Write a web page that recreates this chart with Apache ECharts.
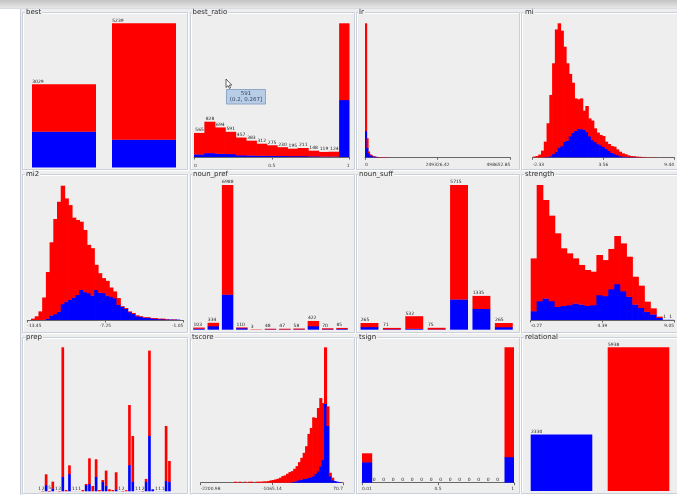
<!DOCTYPE html>
<html>
<head>
<meta charset="utf-8">
<script src="https://cdn.jsdelivr.net/npm/echarts@6/dist/echarts.min.js"></script>
<style>
  html, body { margin: 0; padding: 0; background: #eeeeee; }
  #chart { width: 677px; height: 495px; }
</style>
</head>
<body>
<div id="chart"></div>
<script>
// ---------------- attribute counts (total per bar, and the blue-class share) ----------------
const bestTotal = [3029, 5239];
const bestBlue = [1310, 1020];

const bestRatioTotal = [565, 828, 694, 591, 457, 383, 312, 275, 230, 195, 211, 148, 119, 124, 3136];
const bestRatioBlue = [65, 95, 80, 72, 45, 40, 35, 32, 28, 25, 25, 20, 15, 15, 1340];
const bestRatioTicks = ['0', '0.5', '1'];

const lrTotal = [6600, 940, 290, 150, 100, 60, 40, 25, 15, 10, 8, 5, 4, 3, 2, 2, 1, 1, 1, 1,
  0, 0, 0, 0, 0, 1, 0, 0, 0, 0, 0, 1, 0, 0, 0, 0, 0, 0, 0, 0,
  1, 0, 0, 0, 0, 0, 0, 0, 0, 0, 0, 0, 1, 0, 0, 0, 0, 0, 0, 0,
  0, 0, 0, 0, 0, 0, 0, 0, 0, 0, 0, 0, 0, 0, 0, 0, 0, 0, 0, 0,
  0, 0, 0, 0, 0, 0, 0, 0, 0, 0, 0, 0, 0, 0, 0, 0, 0, 0, 0, 1];
const lrBlue = [1300, 460, 210, 110, 80, 50, 35, 22, 14, 9, 7, 4, 3, 2, 2, 1, 1, 0, 0, 0,
  0, 0, 0, 0, 0, 0, 0, 0, 0, 0, 0, 0, 0, 0, 0, 0, 0, 0, 0, 0,
  0, 0, 0, 0, 0, 0, 0, 0, 0, 0, 0, 0, 0, 0, 0, 0, 0, 0, 0, 0,
  0, 0, 0, 0, 0, 0, 0, 0, 0, 0, 0, 0, 0, 0, 0, 0, 0, 0, 0, 0,
  0, 0, 0, 0, 0, 0, 0, 0, 0, 0, 0, 0, 0, 0, 0, 0, 0, 0, 0, 0];
const lrTicks = ['0', '249326.42', '498652.85'];

const miTotal = [4, 7, 15, 37, 87, 189, 346, 522, 710, 744, 703, 614, 522, 463, 414, 327, 322, 327, 259, 285,
  216, 204, 161, 137, 124, 118, 87, 74, 63, 59, 44, 31, 22, 17, 11, 7, 6, 4, 3, 2,
  2, 1, 1, 1, 1, 0, 0, 1, 0, 0, 1];
const miBlue = [0, 0, 0, 0, 2, 4, 7, 19, 33, 56, 63, 87, 93, 118, 137, 148, 161, 157, 155, 141,
  118, 96, 87, 74, 68, 59, 48, 37, 26, 19, 13, 7, 6, 4, 2, 2, 2, 1, 1, 1,
  0, 0, 0, 0, 0, 0, 0, 0, 0, 0, 0];
const miTicks = ['-2.33', '3.56', '9.44'];

const mi2Total = [0, 7, 19, 44, 115, 245, 397, 516, 604, 686, 621, 587, 523, 511, 502, 460, 384, 367, 282, 239,
  214, 200, 166, 146, 112, 70, 61, 44, 36, 24, 19, 14, 14, 10, 10, 7, 7, 5, 3, 3, 2, 0];
const mi2Blue = [0, 0, 0, 0, 2, 7, 24, 31, 44, 82, 95, 104, 116, 129, 155, 143, 138, 126, 155, 141,
  138, 126, 119, 112, 78, 68, 58, 41, 32, 20, 17, 12, 12, 9, 7, 5, 5, 3, 3, 2, 2, 0];
const mi2Ticks = ['-13.45', '-7.25', '-1.05'];

const nounPrefTotal = [103, 334, 6988, 110, 3, 48, 47, 58, 422, 70, 85];
const nounPrefBlue = [60, 178, 1706, 80, 1, 25, 20, 25, 178, 30, 40];

const nounSuffTotal = [265, 71, 532, 75, 5715, 1335, 265];
const nounSuffBlue = [110, 25, 45, 20, 1200, 830, 106];

const strengthTotal = [366, 802, 713, 620, 515, 426, 396, 366, 327, 297, 287, 386, 356, 422, 499, 455, 376, 257, 204, 109,
  69, 20, 1, 1];
const strengthBlue = [53, 113, 129, 113, 79, 85, 89, 99, 93, 85, 89, 149, 143, 184, 214, 172, 139, 93, 73, 50,
  34, 14, 1, 1];
const strengthTicks = ['-0.27', '4.39', '9.05'];

const prepTotal = [1, 2, 194, 5, 110, 1, 2, 1642, 15, 296, 1, 1, 1, 15, 84, 376, 61, 365, 15, 129,
  236, 23, 15, 217, 1, 2, 12, 984, 631, 1, 1, 2, 141, 1604, 23, 1, 1, 1, 745, 346];
const prepBlue = [0, 1, 72, 2, 34, 0, 1, 167, 0, 198, 0, 1, 0, 0, 72, 84, 0, 167, 0, 110,
  68, 0, 0, 23, 1, 1, 0, 300, 110, 0, 1, 1, 110, 635, 23, 0, 1, 1, 118, 110];

const tscoreTotal = [0, 0, 0, 0, 0, 0, 0, 0, 0, 0, 0, 0, 0, 0, 9, 0, 9, 0, 9, 0,
  9, 9, 0, 9, 9, 9, 12, 12, 15, 21, 24, 30, 36, 45, 60, 66, 81, 96, 105, 126,
  150, 186, 225, 270, 330, 441, 495, 591, 585, 675, 765, 720, 1224, 690, 90, 45, 15, 9, 6, 3];
const tscoreBlue = [0, 0, 0, 0, 0, 0, 0, 0, 0, 0, 0, 0, 0, 0, 0, 0, 0, 0, 0, 0,
  0, 0, 0, 0, 0, 0, 0, 0, 0, 0, 0, 0, 0, 0, 0, 0, 0, 0, 6, 12,
  15, 24, 30, 36, 39, 45, 51, 60, 84, 105, 150, 210, 714, 516, 60, 24, 15, 9, 6, 0];
const tscoreTicks = ['-2200.98', '-1065.14', '70.7'];

const tsignTotal = [1475, 0, 0, 0, 0, 0, 0, 0, 0, 0, 0, 0, 0, 0, 0, 6793];
const tsignBlue = [1035, 0, 0, 0, 0, 0, 0, 0, 0, 0, 0, 0, 0, 0, 0, 1295];
const tsignTicks = ['0.01', '0.5', '1'];

const relationalTotal = [2330, 5938];
const relationalBlue = [2330, 0];

// ---------------- panel layout ----------------
const RED = '#ff0000';
const BLUE = '#0000ff';
const FONT = '"DejaVu Sans", Verdana, sans-serif';

// box: titled border [x, y, w, h]; plot: left/right/top/base of the bar area; axisY: histogram axis line
const panels = [
  { title: 'best', titleX: 25, box: [22, 12, 165, 157], nominal: true, total: bestTotal, blue: bestBlue,
    plot: { left: 24, right: 184, top: 23.3, base: 167.5 }, digits: 9 },
  { title: 'best_ratio', titleX: 191.5, box: [190, 12, 164, 157], total: bestRatioTotal, blue: bestRatioBlue, ticks: bestRatioTicks,
    plot: { left: 194, right: 349.5, top: 23.3, base: 157 }, axisY: 160.5, digits: 3 },
  { title: 'lr', titleX: 358, box: [356, 12, 163, 157], total: lrTotal, blue: lrBlue, ticks: lrTicks,
    plot: { left: 365, right: 510.3, top: 23.3, base: 157.3 }, axisY: 159.5, digits: 0 },
  { title: 'mi', titleX: 524, box: [521, 12, 170, 157], total: miTotal, blue: miBlue, ticks: miTicks,
    plot: { left: 532.7, right: 675.7, top: 23.3, base: 157.3 }, axisY: 159.5, digits: 0 },

  { title: 'mi2', titleX: 25, box: [22, 174, 165, 158], total: mi2Total, blue: mi2Blue, ticks: mi2Ticks,
    plot: { left: 27.3, right: 183.3, top: 185.7, base: 320 }, axisY: 320.8, digits: 0 },
  { title: 'noun_pref', titleX: 192, box: [190, 174, 164, 158], nominal: true, total: nounPrefTotal, blue: nounPrefBlue,
    plot: { left: 191.85, right: 349.15, top: 185, base: 329.7 }, digits: 9 },
  { title: 'noun_suff', titleX: 358, box: [356, 174, 163, 158], nominal: true, total: nounSuffTotal, blue: nounSuffBlue,
    plot: { left: 358.3, right: 515, top: 185, base: 329.7 }, digits: 9 },
  { title: 'strength', titleX: 524, box: [521, 174, 170, 158], total: strengthTotal, blue: strengthBlue, ticks: strengthTicks,
    plot: { left: 530.7, right: 676.7, top: 185, base: 320 }, axisY: 321, digits: 1 },

  { title: 'prep', titleX: 25, box: [22, 337, 165, 156], nominal: true, total: prepTotal, blue: prepBlue,
    plot: { left: 37.8, right: 171.1, top: 347.3, base: 491.3 }, digits: 1 },
  { title: 'tscore', titleX: 191, box: [190, 337, 164, 156], total: tscoreTotal, blue: tscoreBlue, ticks: tscoreTicks,
    plot: { left: 200.7, right: 343, top: 347.3, base: 482.7 }, axisY: 483.5, digits: 0 },
  { title: 'tsign', titleX: 358, box: [356, 337, 163, 156], total: tsignTotal, blue: tsignBlue, ticks: tsignTicks,
    plot: { left: 362, right: 514, top: 347.3, base: 482.7 }, axisY: 484, digits: 1 },
  { title: 'relational', titleX: 524, box: [521, 337, 170, 156], nominal: true, total: relationalTotal, blue: relationalBlue,
    plot: { left: 523, right: 683, top: 347.3, base: 491 }, digits: 9 }
];

// one bar: blue share at the bottom, the rest of the count in red above, optional count text
function renderBar(params, api) {
  const x0 = api.value(0), x1 = api.value(1);
  const t = api.value(2), b = api.value(3), show = api.value(4), shift = api.value(5), joined = api.value(6);
  const p0 = api.coord([x0, 0]);
  const p1 = api.coord([x1, 0]);
  const yBlue = api.coord([x0, b])[1];
  const yTop = api.coord([x0, t])[1];
  // adjacent histogram bins overlap a little so no seam shows between them
  const w = p1[0] - p0[0] + (joined ? 0.7 : 0);
  const kids = [];
  if (b > 0) kids.push({ type: 'rect', shape: { x: p0[0], y: yBlue, width: w, height: p0[1] - yBlue },
    style: { fill: BLUE, stroke: null, lineWidth: 0 } });
  if (t > b) kids.push({ type: 'rect', shape: { x: p0[0], y: yTop, width: w, height: yBlue - yTop + (b > 0 ? 0.3 : 0) },
    style: { fill: RED, stroke: null, lineWidth: 0 } });
  if (show) kids.push({ type: 'text', style: { text: String(t), x: p0[0] + shift, y: yTop - 0.2,
    font: '4.5px ' + FONT, fill: '#222', align: 'left', verticalAlign: 'bottom' } });
  return { type: 'group', children: kids };
}

const grids = [], xAxes = [], yAxes = [], series = [];
const graphics = [];

// window strip and panel background
graphics.push({ type: 'rect', shape: { x: 0, y: 0, width: 677, height: 495 }, style: { fill: '#eeeeee' }, z: -10 });
graphics.push({ type: 'rect', shape: { x: 0, y: 0, width: 677, height: 8 },
  style: { fill: new echarts.graphic.LinearGradient(0, 0, 0, 1, [{ offset: 0, color: '#c4c4c4' }, { offset: 1, color: '#e6e6e6' }]) }, z: -9 });
graphics.push({ type: 'line', shape: { x1: 0, y1: 8.5, x2: 677, y2: 8.5 }, style: { stroke: '#d8dde4', lineWidth: 1 }, z: -9 });
graphics.push({ type: 'rect', shape: { x: 0, y: 9, width: 20, height: 486 }, style: { fill: '#ffffff' }, z: -9 });
graphics.push({ type: 'line', shape: { x1: 20.5, y1: 9, x2: 20.5, y2: 495 }, style: { stroke: '#c8ced6', lineWidth: 1 }, z: -9 });

panels.forEach((p, k) => {
  const n = p.total.length;
  const pl = p.plot;
  grids.push({ left: pl.left, top: pl.top, width: pl.right - pl.left, height: pl.base - pl.top, containLabel: false });
  yAxes.push({ gridIndex: k, type: 'value', min: 0, max: Math.max(...p.total), show: false });
  if (p.nominal) {
    xAxes.push({ gridIndex: k, type: 'value', min: 0, max: n, show: false });
  } else {
    const ticks = p.ticks;
    xAxes.push({
      gridIndex: k, type: 'value', min: 0, max: 1, interval: 0.5, position: 'bottom',
      offset: p.axisY - pl.base,
      axisLine: { show: true, lineStyle: { color: '#666', width: 1 } },
      axisTick: { show: true, length: 2.5, inside: false, lineStyle: { color: '#666', width: 1 } },
      splitLine: { show: false },
      axisLabel: {
        show: true, margin: 3, fontSize: 4.4, fontFamily: 'DejaVu Sans', color: '#333',
        alignMinLabel: 'left', alignMaxLabel: 'right',
        formatter: v => (v === 0 ? ticks[0] : v === 1 ? ticks[2] : ticks[1])
      }
    });
  }
  const data = p.total.map((t, i) => {
    const x0 = p.nominal ? i + 0.1 : i / n;
    const x1 = p.nominal ? i + 0.9 : (i + 1) / n;
    const show = String(t).length <= p.digits ? 1 : 0;
    const joined = !p.nominal && i < n - 1 ? 1 : 0;
    return [x0, x1, t, p.blue[i], show, p.nominal ? 0.2 : 1.3, joined];
  });
  series.push({
    type: 'custom', xAxisIndex: k, yAxisIndex: k, data: data, renderItem: renderBar,
    clip: false, silent: true, animation: false,
    dimensions: ['x0', 'x1', 'total', 'blue', 'label', 'shift', 'joined'],
    encode: { x: [0, 1], y: [2, 3] }
  });

  // titled, etched border
  const [bx, by, bw, bh] = p.box;
  graphics.push({ type: 'rect', shape: { x: bx + 1.5, y: by + 1.5, width: bw, height: bh }, style: { fill: 'none', stroke: '#ffffff', lineWidth: 1 }, z: -5 });
  graphics.push({ type: 'rect', shape: { x: bx + 0.5, y: by + 0.5, width: bw, height: bh }, style: { fill: 'none', stroke: '#c9d0d9', lineWidth: 1 }, z: -5 });
  graphics.push({ type: 'text', x: p.titleX, y: by + 0.5, z: -4,
    style: { text: p.title, font: '7px ' + FONT, fill: '#2a2a2a', align: 'left', verticalAlign: 'middle',
      backgroundColor: '#eeeeee', padding: [0, 1, 0, 1] } });
});

// hover box over the best_ratio histogram
graphics.push({ type: 'group', z: 100, children: [
  { type: 'rect', shape: { x: 226.5, y: 89.5, width: 39, height: 14.5 }, style: { fill: '#b8cde6', stroke: '#8fa7c6', lineWidth: 1 } },
  { type: 'text', style: { text: '591', x: 246, y: 93.3, font: '5.5px ' + FONT, fill: '#34465e', align: 'center', verticalAlign: 'middle' } },
  { type: 'text', style: { text: '(0.2, 0.267]', x: 246, y: 99.8, font: '5.5px ' + FONT, fill: '#34465e', align: 'center', verticalAlign: 'middle' } }
] });
// mouse pointer
graphics.push({ type: 'polygon', z: 101,
  shape: { points: [[226, 79], [226, 87.5], [228, 85.6], [229.4, 88.4], [230.6, 87.8], [229.3, 85.1], [231.8, 85.1]] },
  style: { fill: '#ffffff', stroke: '#222222', lineWidth: 0.7 } });

const chart = echarts.init(document.getElementById('chart'), null, { renderer: 'canvas', width: 677, height: 495 });
chart.setOption({
  animation: false,
  backgroundColor: '#eeeeee',
  grid: grids,
  xAxis: xAxes,
  yAxis: yAxes,
  series: series,
  graphic: { elements: graphics }
});
</script>
</body>
</html>
